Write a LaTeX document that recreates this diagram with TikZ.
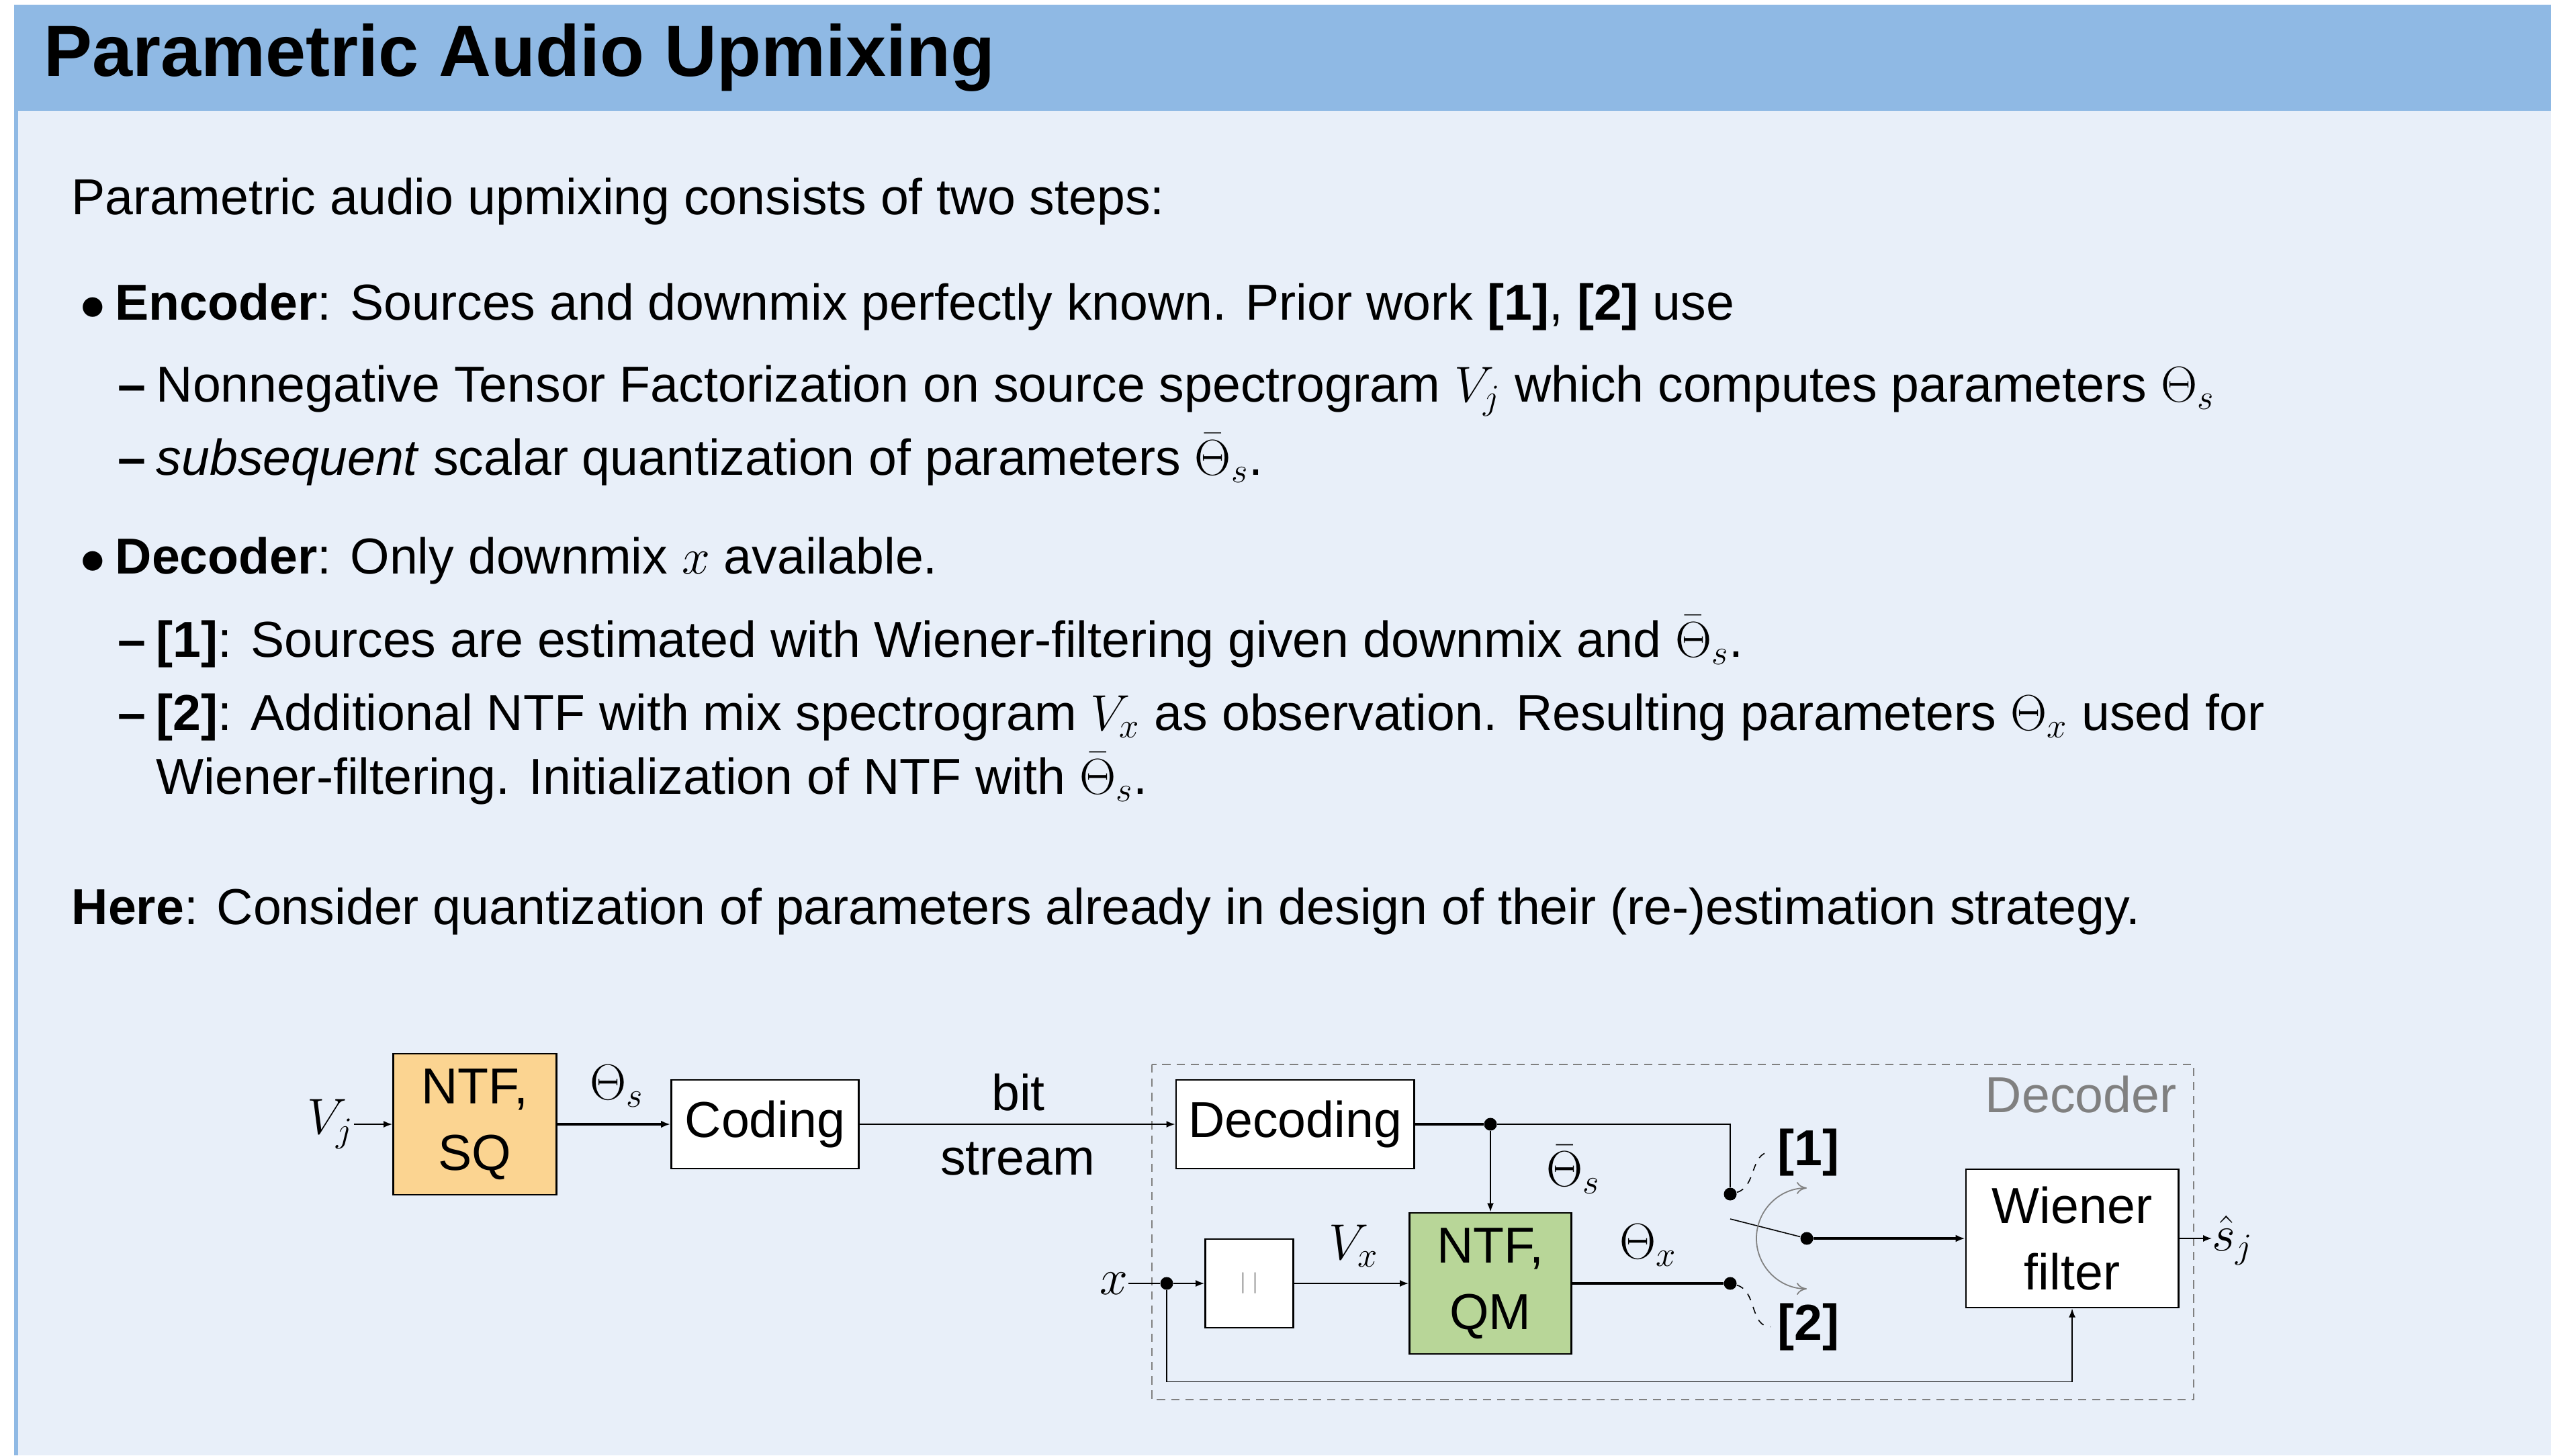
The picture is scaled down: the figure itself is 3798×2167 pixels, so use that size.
\RequirePackage{fix-cm}
\documentclass[tikz,border=0pt]{standalone}
\usepackage[no-math]{fontspec}
\setmainfont{Liberation Sans}
\usetikzlibrary{arrows.meta,calc}

\definecolor{titlebg}{RGB}{143,185,228}
\definecolor{blockbg}{RGB}{232,239,249}
\definecolor{sqfill}{RGB}{251,212,145}
\definecolor{qmfill}{RGB}{184,214,152}

\newcommand{\bodyfont}{\fontsize{21.4}{28}\selectfont}
\newcommand{\titlefont}{\fontsize{30.7}{36}\selectfont\bfseries}

\begin{document}
\begin{tikzpicture}[x=0.01cm, y=-0.01cm,
    txt/.style={anchor=base west, inner sep=0, font=\bodyfont},
    blk/.style={draw, line width=0.8pt, fill=white, align=center, inner sep=0, font=\bodyfont},
    dot/.style={circle, fill, inner sep=0, minimum size=0.19cm},
    thin line/.style={line width=0.45pt},
    thick line/.style={line width=0.9pt},
    thin arr/.style={line width=0.45pt, -{Latex[length=1.3mm,width=1mm]}},
    thick arr/.style={line width=0.9pt, -{Latex[length=1.4mm,width=1.1mm]}},
    arc arr/.style={draw=gray, line width=0.5pt, {To[length=1.5mm,width=1.8mm]}-{To[length=1.5mm,width=1.8mm]}}]

	%%%%% block frame %%%%%
	\fill[white] (0,0) rectangle (3798,2167);
	\useasboundingbox (0,0) rectangle (3798,2167);
	\fill[blockbg] (21,7) rectangle (3798,2167);
	\fill[titlebg] (21,7) rectangle (3798,165);
	\fill[titlebg] (21,165) rectangle (27,2167);
	\node[anchor=base west, inner sep=0, font=\titlefont] (title) at (65,114) {Parametric Audio Upmixing};

	%%%%% text %%%%%
	\node[txt] (intro) at (106,320) {Parametric audio upmixing consists of two steps:};
	\node[txt] (b1) at (119,476) {$\bullet$};
	\node[txt] (enc) at (171,476) {\textbf{Encoder}: Sources and downmix perfectly known. Prior work \textbf{[1]}, \textbf{[2]} use};
	\node[txt] (d1) at (175,598) {\textbf{--}};
	\node[txt] (enc1) at (232,598) {Nonnegative Tensor Factorization on source spectrogram $V_j$ which computes parameters $\Theta_s$};
	\node[txt] (d2) at (175,707) {\textbf{--}};
	\node[txt] (enc2) at (232,707) {\textit{subsequent} scalar quantization of parameters $\bar{\Theta}_s$.};
	\node[txt] (b2) at (119,854) {$\bullet$};
	\node[txt] (dec) at (171,854) {\textbf{Decoder}: Only downmix $x$ available.};
	\node[txt] (d3) at (175,978) {\textbf{--}};
	\node[txt] (dec1) at (232,978) {\textbf{[1]}: Sources are estimated with Wiener-filtering given downmix and $\bar{\Theta}_s$.};
	\node[txt] (d4) at (175,1087) {\textbf{--}};
	\node[txt] (dec2) at (232,1087) {\textbf{[2]}: Additional NTF with mix spectrogram $V_x$ as observation. Resulting parameters $\Theta_x$ used for};
	\node[txt] (dec2b) at (232,1182) {Wiener-filtering. Initialization of NTF with $\bar{\Theta}_s$.};
	\node[txt] (here) at (106,1376) {\textbf{Here}: Consider quantization of parameters already in design of their (re-)estimation strategy.};

	%%%%% encoder %%%%%
	\node[blk, fill=sqfill, minimum width=2.43cm, minimum height=2.10cm] (ntfsq) at (707,1674) {NTF,\\SQ};
	\node[blk, minimum width=2.79cm, minimum height=1.32cm] (coding) at (1139,1674) {Coding};
	\node[txt, anchor=east] (vj) at (527,1674) {$V_j$};
	\node[txt] (ths) at (878,1637) {$\Theta_s$};
	\node[txt, anchor=base] (bit) at (1516,1653) {bit};
	\node[txt, anchor=base] (stream) at (1515,1749) {stream};

	%%%%% decoder %%%%%
	\draw[gray, line width=0.6pt, dash pattern=on 3.5pt off 2.5pt] (1715,1585) rectangle (3266,2084);
	\node[txt, anchor=base east, text=gray] (declbl) at (3241,1656) {Decoder};

	\node[blk, minimum width=3.54cm, minimum height=1.32cm] (decoding) at (1928,1674) {Decoding};
	\node[blk, fill=qmfill, minimum width=2.41cm, minimum height=2.10cm] (ntfqm) at (2219,1911) {NTF,\\QM};
	\node[blk, minimum width=1.31cm, minimum height=1.32cm, font=\fontsize{9}{11}\selectfont, text=black!65] (mag) at (1860,1911) {$|\;|$};
	\node[blk, minimum width=3.16cm, minimum height=2.06cm] (wiener) at (3085,1844) {Wiener\\filter};

	\node[dot] (jd) at (2219,1674) {};
	\node[dot] (jx) at (1737,1911) {};
	\node[dot] (s1) at (2576,1778) {};
	\node[dot] (s2) at (2576,1911) {};
	\node[dot] (sc) at (2690,1844) {};
	\coordinate (lever) at (2576,1815);
	\coordinate (fb) at ([yshift=-1.09cm]wiener.south);

	\node[txt, anchor=east] (xin) at (1680,1911) {$x$};
	\node[txt] (vx) at (1978,1875) {$V_x$};
	\node[txt] (thx) at (2411,1874) {$\Theta_x$};
	\node[txt] (thsb) at (2302,1766) {$\bar{\Theta}_s$};
	\node[txt, font=\bodyfont\bfseries] (lab1) at (2646,1735) {[1]};
	\node[txt, font=\bodyfont\bfseries] (lab2) at (2646,1995) {[2]};
	\node[txt] (shat) at (3293,1862) {$\hat{s}_j$};

	\draw[thin arr] (vj) -- (ntfsq);
	\draw[thick arr] (ntfsq) -- (coding);
	\draw[thin arr] (coding) -- (decoding);

	\draw[thick line] (decoding) -- (jd);
	\draw[line width=0.7pt] (jd) -| (s1);
	\draw[thin arr] (jd) -- (ntfqm);
	\draw[thin line] (xin) -- (jx);
	\draw[thin arr] (jx) -- (mag);
	\draw[thin arr] (mag) -- (ntfqm);
	\draw[thick line] (ntfqm) -- (s2);
	\draw[thin arr] (jx) |- (fb) -- (wiener.south);

	% switch
	\draw[thin line] (lever) -- (sc);
	\draw[arc arr] ([yshift=0.75cm]sc.center) arc[start angle=90, end angle=270, radius=0.75cm];
	\draw[thin line, dashed] (s1) to[out=15, in=180] ([xshift=-0.1cm]lab1.west);
	\draw[thin line, dashed] (s2) to[out=-15, in=180] ([xshift=-0.1cm]lab2.west);
	\draw[thick arr] (sc) -- (wiener);
	\draw[thin arr] (wiener) -- (wiener.east -| shat.west);
\end{tikzpicture}
\end{document}
